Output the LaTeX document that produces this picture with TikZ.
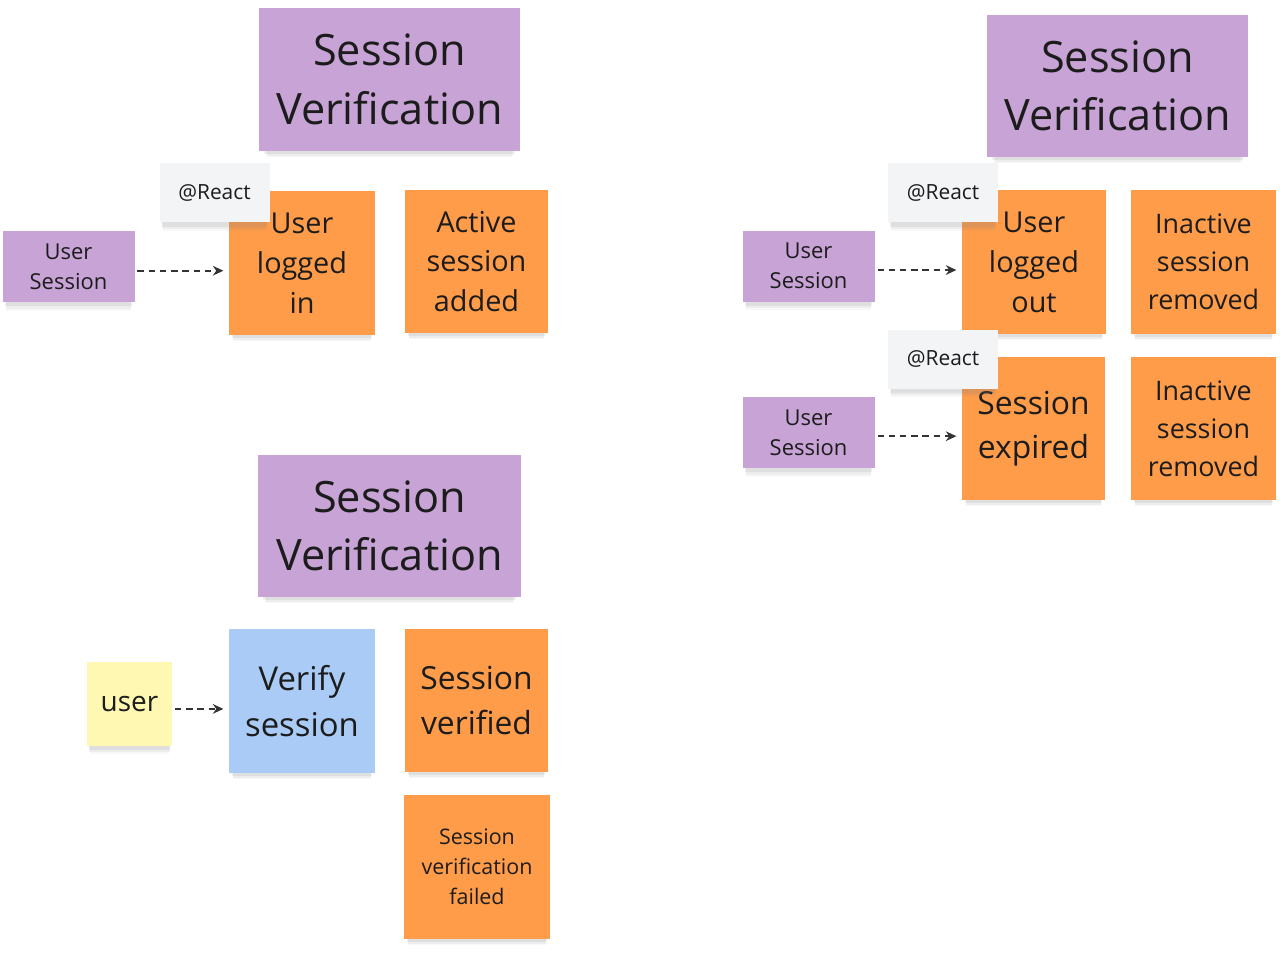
\documentclass[tikz,border=0pt]{standalone}
\usepackage{fontspec}
\setmainfont{Open Sans}
\usetikzlibrary{shadows,arrows.meta}
\definecolor{stickyviolet}{HTML}{C7A3D6}
\definecolor{stickyorange}{HTML}{FE9C4A}
\definecolor{stickyblue}{HTML}{A9CBF5}
\definecolor{stickyyellow}{HTML}{FFF8B3}
\definecolor{stickygray}{HTML}{F3F4F6}
\definecolor{inkdark}{HTML}{1C1C1C}
\tikzset{
  box/.style 2 args={minimum width=#1*0.02cm, minimum height=#2*0.02cm},
  fs/.style 2 args={font=\fontsize{#1}{#2}\selectfont},
  sticky/.style={inner sep=0pt, align=center, text=inkdark,
    drop shadow={shadow xshift=0pt, shadow yshift=-6.5pt, opacity=0.06, shadow scale=0.94},
    drop shadow={shadow xshift=0pt, shadow yshift=-5pt, opacity=0.09, shadow scale=0.95},
    drop shadow={shadow xshift=0pt, shadow yshift=-3.5pt, opacity=0.12, shadow scale=0.96}},
  violetnote/.style={sticky, fill=stickyviolet},
  orangenote/.style={sticky, fill=stickyorange},
  bluenote/.style={sticky, fill=stickyblue},
  yellownote/.style={sticky, fill=stickyyellow},
  reactnote/.style={sticky, fill=stickygray, box={110}{59}, fs={11.9}{14}},
  titlenote/.style={violetnote, fs={24.6}{33.4}},
  sessnote/.style={violetnote, box={132}{71}, fs={12.5}{17}},
  flow/.style={draw=black!80, line width=0.9pt, dash pattern=on 3.6pt off 2.8pt,
    -{Stealth[length=6pt,width=5.5pt]}, shorten <=1.5pt, shorten >=3pt}
}
\begin{document}
\begin{tikzpicture}[x=0.02cm, y=-0.02cm]
\useasboundingbox (0,0) rectangle (1280,963);

\node[titlenote, box={261}{143}] (title1) at (389.5,79.5) {Session\\Verification};
\node[sessnote] (usersess1) at (68.5,266.5) {User\\Session};
\node[orangenote, box={146}{144}, fs={16.4}{22.7}] (loggedin) at (302,263) {User\\logged\\in};
\node[orangenote, box={143}{143}, fs={16.4}{22.7}] (added) at (476.5,261.5) {Active\\session\\added};
\node[reactnote] (react1) at (214.5,192.5) {@React};
\coordinate (from1) at ([yshift=-2.4pt]usersess1.east);
\draw[flow] (from1) -- (from1 -| loggedin.west);

\node[titlenote, box={261}{142}] (title2) at (1117.5,86) {Session\\Verification};
\node[sessnote] (usersess2) at (808.5,266) {User\\Session};
\node[orangenote, box={144}{144}, fs={16.4}{22.7}] (loggedout) at (1034,262) {User\\logged\\out};
\node[orangenote, box={145}{144}, fs={15.3}{21.5}] (removed1) at (1203.5,262) {Inactive\\session\\removed};
\node[reactnote] (react2) at (943,192.5) {@React};
\coordinate (from2) at ([yshift=-2.3pt]usersess2.east);
\draw[flow] (from2) -- (from2 -| loggedout.west);

\node[sessnote] (usersess3) at (808.5,432.5) {User\\Session};
\node[orangenote, box={143}{143}, fs={18.1}{25}] (expired) at (1033.5,428.5) {Session\\expired};
\node[orangenote, box={145}{143}, fs={15.3}{21.5}] (removed2) at (1203.5,428.5) {Inactive\\session\\removed};
\node[reactnote] (react3) at (943,359) {@React};
\coordinate (from3) at ([yshift=-2.1pt]usersess3.east);
\draw[flow] (from3) -- (from3 -| expired.west);

\node[titlenote, box={263}{142}] (title3) at (389.5,526) {Session\\Verification};
\node[yellownote, box={85}{84}, fs={15.9}{20}] (user) at (129.5,704) {user};
\node[bluenote, box={146}{144}, fs={18.7}{26}] (verify) at (302,701) {Verify\\session};
\node[orangenote, box={143}{143}, fs={18.1}{25.5}] (verified) at (476.5,700.5) {Session\\verified};
\node[orangenote, box={146}{144}, fs={12.2}{17}] (failed) at (477,867) {Session\\verification\\failed};
\coordinate (from4) at ([yshift=-2.8pt]user.east);
\draw[flow] (from4) -- (from4 -| verify.west);

\end{tikzpicture}
\end{document}
